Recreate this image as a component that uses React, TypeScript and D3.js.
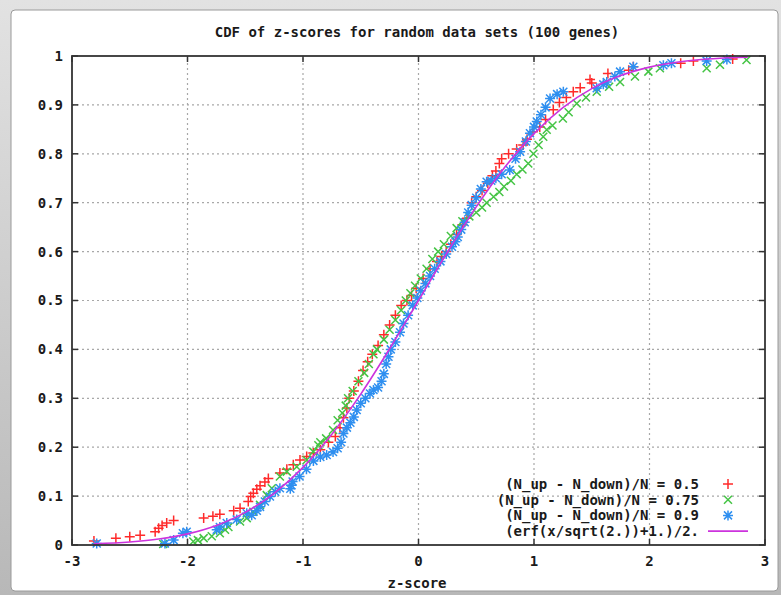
import React from 'react';
import * as d3 from 'd3';

// z-score / CDF pairs, one set per data set
const redX = [-2.81, -2.62, -2.5, -2.41, -2.28, -2.25, -2.22, -2.18, -2.12, -1.86, -1.78, -1.72, -1.6, -1.545,
  -1.474, -1.453, -1.43, -1.4, -1.372, -1.33, -1.3, -1.2, -1.14, -1.084, -1.026, -0.968, -0.911, -0.85, -0.78,
  -0.72, -0.68, -0.65, -0.62, -0.6, -0.56, -0.52, -0.48, -0.44, -0.4, -0.35, -0.3, -0.25, -0.2, -0.15, -0.1,
  -0.06, -0.02, 0.04, 0.1, 0.16, 0.2, 0.24, 0.28, 0.33, 0.38, 0.42, 0.46, 0.5, 0.55, 0.6, 0.64, 0.67, 0.7, 0.72,
  0.78, 0.85, 0.906, 0.94, 0.99, 1.05, 1.1, 1.167, 1.22, 1.28, 1.34, 1.4, 1.485, 1.5, 1.64, 1.82, 1.86, 2.27,
  2.38, 2.72];
const redY = [0.008, 0.014, 0.017, 0.02, 0.027, 0.034, 0.04, 0.045, 0.05, 0.055, 0.059, 0.063, 0.07, 0.075,
  0.089, 0.099, 0.106, 0.114, 0.121, 0.129, 0.136, 0.147, 0.155, 0.164, 0.174, 0.181, 0.188, 0.195, 0.21,
  0.222, 0.24, 0.26, 0.28, 0.3, 0.315, 0.335, 0.357, 0.375, 0.39, 0.408, 0.43, 0.45, 0.47, 0.49, 0.5,
  0.51, 0.525, 0.545, 0.565, 0.58, 0.59, 0.6, 0.615, 0.635, 0.655, 0.668, 0.7, 0.712, 0.725, 0.74, 0.755, 0.765,
  0.78, 0.79, 0.8, 0.81, 0.818, 0.83, 0.845, 0.855, 0.87, 0.89, 0.905, 0.915, 0.927, 0.935, 0.952, 0.945,
  0.964, 0.971, 0.978, 0.985, 0.99, 0.994];

const greenX = [-2.21, -1.95, -1.91, -1.86, -1.79, -1.72, -1.675, -1.646, -1.545, -1.487, -1.43, -1.372, -1.314,
  -1.27, -1.2, -1.14, -1.054, -0.968, -0.911, -0.867, -0.85, -0.8, -0.74, -0.7, -0.66, -0.63, -0.61, -0.57,
  -0.52, -0.47, -0.43, -0.39, -0.36, -0.3, -0.25, -0.2, -0.15, -0.11, -0.07, -0.03, 0.02, 0.07, 0.12, 0.17,
  0.22, 0.28, 0.33, 0.38, 0.44, 0.5, 0.55, 0.59, 0.65, 0.7, 0.74, 0.8, 0.85, 0.9, 0.95, 0.995, 1.04, 1.08,
  1.11, 1.16, 1.25, 1.3, 1.37, 1.45, 1.543, 1.65, 1.745, 1.874, 1.99, 2.09, 2.495, 2.61, 2.84];
const greenY = [0.002, 0.007, 0.01, 0.014, 0.018, 0.024, 0.031, 0.037, 0.048, 0.055, 0.068, 0.082, 0.102,
  0.116, 0.14, 0.15, 0.16, 0.174, 0.191, 0.204, 0.21, 0.218, 0.235, 0.255, 0.27, 0.285, 0.3, 0.315,
  0.335, 0.352, 0.37, 0.39, 0.4, 0.42, 0.44, 0.46, 0.48, 0.5, 0.515, 0.53, 0.545, 0.565, 0.585, 0.6,
  0.615, 0.632, 0.648, 0.662, 0.672, 0.68, 0.69, 0.7, 0.712, 0.722, 0.733, 0.745, 0.758, 0.768, 0.78, 0.8, 0.818, 0.835,
  0.849, 0.858, 0.872, 0.885, 0.903, 0.915, 0.927, 0.937, 0.947, 0.958, 0.968, 0.975, 0.975, 0.982, 0.992];

const blueX = [-2.786, -2.195, -2.12, -2.04, -2.007, -1.747, -1.72, -1.66, -1.574, -1.487, -1.444, -1.4, -1.372,
  -1.33, -1.286, -1.24, -1.2, -1.11, -1.1, -1.09, -1.03, -0.97, -0.91, -0.85, -0.795, -0.74, -0.7, -0.67,
  -0.65, -0.62, -0.59, -0.56, -0.535, -0.5, -0.46, -0.42, -0.39, -0.35, -0.32, -0.3, -0.28, -0.26, -0.24,
  -0.2, -0.16, -0.13, -0.09, -0.05, -0.01, 0.02, 0.06, 0.1, 0.14, 0.19, 0.24, 0.29, 0.32, 0.34, 0.37, 0.4,
  0.43, 0.46, 0.5, 0.54, 0.59, 0.63, 0.67, 0.72, 0.79, 0.84, 0.88, 0.93, 0.965, 1.0, 1.024, 1.06, 1.1, 1.139,
  1.2, 1.254, 1.543, 1.6, 1.63, 1.7, 1.745, 1.86, 2.12, 2.19, 2.495, 2.67];
const blueY = [0.003, 0.003, 0.01, 0.024, 0.027, 0.031, 0.037, 0.045, 0.052, 0.065, 0.061, 0.07, 0.078,
  0.089, 0.099, 0.109, 0.116, 0.115, 0.122, 0.13, 0.14, 0.155, 0.172, 0.18, 0.184, 0.19, 0.198, 0.21,
  0.228, 0.24, 0.25, 0.262, 0.276, 0.29, 0.3, 0.31, 0.317, 0.322, 0.335, 0.35, 0.37, 0.385, 0.4,
  0.415, 0.435, 0.453, 0.47, 0.49, 0.505, 0.52, 0.535, 0.55, 0.565, 0.58, 0.595, 0.61, 0.62, 0.63, 0.645, 0.66,
  0.68, 0.695, 0.71, 0.728, 0.743, 0.745, 0.75, 0.758, 0.767, 0.79, 0.804, 0.825, 0.842, 0.855, 0.866, 0.88, 0.895, 0.913,
  0.922, 0.927, 0.934, 0.942, 0.947, 0.958, 0.968, 0.978, 0.981, 0.985, 0.99, 0.993];

// (erf(x/sqrt(2))+1)/2 as drawn
const curveX = [-2.81, -2.5, -2.25, -2, -1.75, -1.5, -1.25, -1, -0.75, -0.5, -0.25, 0, 0.25, 0.5, 0.75, 1, 1.25,
  1.5, 1.75, 2, 2.25, 2.5, 2.75, 2.85];
const curveY = [0.0025, 0.0062, 0.0122, 0.0228, 0.0401, 0.0668, 0.1057, 0.1587, 0.2266, 0.3085, 0.4013, 0.5,
  0.5987, 0.6915, 0.7734, 0.8413, 0.8944, 0.9332, 0.9599, 0.9772, 0.9878, 0.9938, 0.997, 0.9978];

const xTicks = [-3, -2, -1, 0, 1, 2, 3];
const yTicks = [0, 0.1, 0.2, 0.3, 0.4, 0.5, 0.6, 0.7, 0.8, 0.9, 1];
const legendLabels = ['(N_up - N_down)/N = 0.5', '(N_up - N_down)/N = 0.75', '(N_up - N_down)/N = 0.9', '(erf(x/sqrt(2.))+1.)/2.'];

const W = 781, H = 595;
const margin = { left: 72, right: 16, top: 56, bottom: 50 };
const FONT = '"DejaVu Sans Mono", monospace';

const plusPath = 'M-5,0H5M0,-5V5';
const crossPath = 'M-4,-4L4,4M-4,4L4,-4';
const starPath = plusPath + crossPath;

const series = [
  { xs: redX, ys: redY, color: '#ff2a2a', path: plusPath },
  { xs: greenX, ys: greenY, color: '#44c444', path: crossPath },
  { xs: blueX, ys: blueY, color: '#2e8ff0', path: starPath },
];

const App = () => {
  const x = d3.scaleLinear().domain([-3, 3]).range([margin.left, W - margin.right]);
  const y = d3.scaleLinear().domain([0, 1]).range([H - margin.bottom, margin.top]);
  const [x0, x1] = x.range();
  const [y0, y1] = y.range();

  const line = d3.line<number>()
    .x((d, i) => x(curveX[i]))
    .y(d => y(d))
    .curve(d3.curveMonotoneX);

  const textStyle = { fontFamily: FONT, fontSize: 14, fontWeight: 'bold', fill: '#1a1a1a' } as const;

  return (
    <svg width={W} height={H} style={{ position: 'fixed', left: 0, top: 0, background: '#c9c9c9' }}>
      <defs>
        <linearGradient id="frame" x1="0" y1="0" x2="0" y2="1">
          <stop offset="0" stopColor="#e2e2e2" />
          <stop offset="1" stopColor="#b8b8b8" />
        </linearGradient>
      </defs>
      <rect x={0} y={0} width={W} height={H} fill="url(#frame)" />
      <rect x={11} y={10} width={767} height={581} rx={4} fill="#fff" stroke="#9a9a9a" strokeWidth={1} />

      {/* grid */}
      {xTicks.slice(1, -1).map(t => (
        <line key={'gx' + t} x1={x(t)} x2={x(t)} y1={y0} y2={y1} stroke="#a8a8a8" strokeWidth={1.2} strokeDasharray="2,3" />
      ))}
      {yTicks.slice(1, -1).map(t => (
        <line key={'gy' + t} x1={x0} x2={x1} y1={y(t)} y2={y(t)} stroke="#a8a8a8" strokeWidth={1.2} strokeDasharray="2,3" />
      ))}

      {/* ticks, mirrored */}
      {xTicks.map(t => (
        <g key={'tx' + t} stroke="#333" strokeWidth={1.5}>
          <line x1={x(t)} x2={x(t)} y1={y0} y2={y0 - 6} />
          <line x1={x(t)} x2={x(t)} y1={y1} y2={y1 + 6} />
        </g>
      ))}
      {yTicks.map(t => (
        <g key={'ty' + t} stroke="#333" strokeWidth={1.5}>
          <line x1={x0} x2={x0 + 6} y1={y(t)} y2={y(t)} />
          <line x1={x1} x2={x1 - 6} y1={y(t)} y2={y(t)} />
        </g>
      ))}

      {/* data */}
      {series.map((s, k) => (
        <g key={'s' + k} stroke={s.color} strokeWidth={1.5} fill="none">
          {s.xs.map((v, i) => (
            <path key={i} d={s.path} transform={`translate(${x(v)},${y(s.ys[i])})`} />
          ))}
        </g>
      ))}
      <path d={line(curveY) || ''} fill="none" stroke="#cc33dd" strokeWidth={1.6} />

      <rect x={x0} y={y1} width={x1 - x0} height={y0 - y1} fill="none" stroke="#333" strokeWidth={1.8} />

      {/* tick labels */}
      {xTicks.map(t => (
        <text key={'lx' + t} x={x(t)} y={y0 + 21} textAnchor="middle" style={textStyle}>{d3.format('d')(t).replace('−', '-')}</text>
      ))}
      {yTicks.map(t => (
        <text key={'ly' + t} x={x0 - 9} y={y(t)} dy="0.35em" textAnchor="end" style={textStyle}>{t === 0 || t === 1 ? String(t) : t.toFixed(1)}</text>
      ))}

      <text x={417} y={37} textAnchor="middle" style={textStyle}>CDF of z-scores for random data sets (100 genes)</text>
      <text x={417} y={588} textAnchor="middle" style={textStyle}>z-score</text>

      {/* legend */}
      {legendLabels.map((lab, i) => {
        const ly = 484 + i * 15.7;
        const s = series[i];
        return (
          <g key={'lg' + i}>
            <text x={699} y={ly} dy="0.35em" textAnchor="end" style={textStyle}>{lab}</text>
            {s ? (
              <path d={s.path} transform={`translate(728,${ly})`} stroke={s.color} strokeWidth={1.5} fill="none" />
            ) : (
              <line x1={708} x2={748} y1={ly} y2={ly} stroke="#cc33dd" strokeWidth={1.6} />
            )}
          </g>
        );
      })}
    </svg>
  );
};

export default App;
